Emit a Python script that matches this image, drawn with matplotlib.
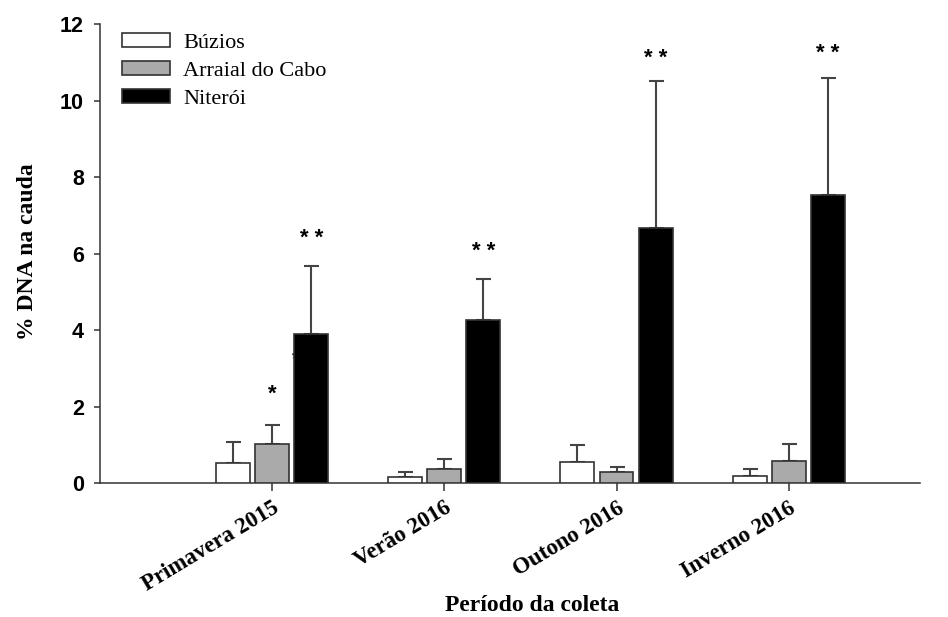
import matplotlib.pyplot as plt
import numpy as np

periodos = ["Primavera 2015", "Verão 2016", "Outono 2016", "Inverno 2016"]
locais = ["Búzios", "Arraial do Cabo", "Niterói"]
buzios = [0.52, 0.15, 0.54, 0.18]
buzios_err = [0.56, 0.15, 0.45, 0.20]
arraial = [1.01, 0.38, 0.28, 0.58]
arraial_err = [0.51, 0.26, 0.14, 0.45]
niteroi = [3.90, 4.27, 6.68, 7.52]
niteroi_err = [1.77, 1.06, 3.82, 3.08]
cores = ["white", "#aaaaaa", "black"]
# asterisks: (group, series index, y of star centre, label)
marcas = [(0, 1, 2.43, "*"), (0, 2, 6.48, "* *"), (1, 2, 6.14, "* *"),
          (2, 2, 11.19, "* *"), (3, 2, 11.32, "* *")]

fig = plt.figure(figsize=(9.48, 6.17), dpi=100)
ax = fig.add_axes([0.1055, 0.217, 0.8645, 0.744])

x = np.arange(1, len(periodos) + 1)
w = 0.197
off = 0.227
series = [buzios, arraial, niteroi]
erros = [buzios_err, arraial_err, niteroi_err]
for i, (vals, err) in enumerate(zip(series, erros)):
    pos = x + (i - 1) * off
    ax.bar(pos, vals, width=w, color=cores[i], edgecolor="#333333",
           linewidth=1.2, label=locais[i], zorder=3)
    ax.errorbar(pos, vals, yerr=[np.zeros(len(vals)), err], fmt="none",
                ecolor="#444444", elinewidth=1.5, capsize=5.4, capthick=1.5,
                zorder=2)

for g, s, yv, lab in marcas:
    ax.text(x[g] + (s - 1) * off, yv - 0.24, lab, ha="center", va="baseline",
            fontsize=16, fontweight="bold", family="Liberation Sans", zorder=4)
# stray asterisk mostly hidden behind the Primavera Niterói bar
ax.text(x[0] + 0.14, 3.32 - 0.24, "*", ha="center", va="baseline",
        fontsize=16, fontweight="bold", color="#3a2a10",
        family="Liberation Sans", zorder=1)

ax.set_xlim(0, 4.76)
ax.set_ylim(0, 12)
ax.set_yticks(range(0, 13, 2))
ax.set_xticks(x)
ax.set_xticklabels(periodos, rotation=31, ha="right", rotation_mode="anchor",
                   family="Liberation Serif", fontweight="bold", fontsize=16.5)
for t in ax.get_yticklabels():
    t.set_family("Liberation Sans")
    t.set_fontweight("bold")
    t.set_fontsize(15.5)
ax.spines["top"].set_visible(False)
ax.spines["right"].set_visible(False)
for sp in ["left", "bottom"]:
    ax.spines[sp].set_color("#333333")
    ax.spines[sp].set_linewidth(1.1)
ax.tick_params(axis="y", direction="out", length=4.5, width=1.1, color="#333333", pad=7)
ax.tick_params(axis="x", direction="out", length=5.5, width=1.1, color="#333333", pad=5)

ax.set_ylabel("% DNA na cauda", family="Liberation Serif", fontweight="bold",
              fontsize=17)
ax.yaxis.set_label_coords(-0.088, 0.504)
ax.yaxis.label.set_va("center")
ax.set_xlabel("Período da coleta", family="Liberation Serif", fontweight="bold",
              fontsize=17)
ax.xaxis.set_label_coords(0.527, -0.266)
ax.xaxis.label.set_va("center")

leg = ax.legend(loc="upper left", bbox_to_anchor=(0.021, 0.99), frameon=False,
                prop={"family": "Liberation Serif", "size": 16},
                handlelength=2.16, handleheight=0.6, handletextpad=0.6,
                labelspacing=0.37, borderaxespad=0, borderpad=0.2)

fig.savefig("out.png", dpi=100)
